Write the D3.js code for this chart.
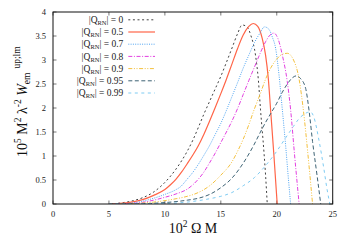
<!DOCTYPE html>
<html><head><meta charset="utf-8">
<script src="https://cdn.jsdelivr.net/npm/d3@7"></script>
<style>body{margin:0;background:#fff}svg{display:block}</style>
</head><body>
<svg id="c" width="350" height="245"></svg>
<script>
const xTicks=[0,5,10,15,20,25];
const yTicks=[0,0.5,1,1.5,2,2.5,3,3.5,4];
const labels=["0","0.5","0.7","0.8","0.9","0.95","0.99"];
const q0=[[5,0],[6,0.02],[7,0.06],[8,0.13],[9,0.25],[10,0.45],[11,0.73],[12,1.1],[12.5,1.33],[13,1.6],[13.5,1.88],[14,2.14],[14.5,2.4],[15,2.66],[15.5,2.95],[16,3.25],[16.5,3.55],[16.9,3.73],[17.3,3.7],[17.7,3.5],[18.1,3.1],[18.35,2.6],[18.55,1.96],[18.85,1.1],[19.0,0.6],[19.15,0]];
const q05=[[5,0],[6,0.012],[7,0.04],[8,0.09],[9,0.18],[10,0.3],[10.5,0.4],[11,0.52],[11.5,0.67],[12,0.84],[12.5,1.02],[13,1.22],[13.5,1.46],[14,1.73],[14.5,2.01],[15,2.3],[15.5,2.6],[16,2.92],[16.5,3.24],[17,3.52],[17.5,3.7],[17.9,3.76],[18.3,3.7],[18.7,3.45],[19.0,3.1],[19.25,2.6],[19.45,1.96],[19.75,1.0],[20.04,0]];
const q07=[[5,0],[6,0.005],[7,0.02],[8,0.06],[9,0.12],[10,0.2],[11,0.3],[11.4,0.36],[12,0.52],[12.5,0.66],[13,0.83],[13.5,1.02],[14,1.22],[14.5,1.45],[15,1.68],[15.5,1.95],[16,2.24],[16.5,2.53],[17,2.83],[17.5,3.1],[18,3.36],[18.5,3.56],[18.9,3.69],[19.3,3.64],[19.6,3.48],[19.9,3.24],[20.2,2.69],[20.5,1.96],[20.8,1.2],[21.05,0.5],[21.24,0]];
const q08=[[5,0],[6,0.002],[7,0.01],[8,0.035],[9,0.08],[10,0.14],[11,0.21],[12,0.31],[12.5,0.4],[13,0.52],[13.5,0.67],[14,0.86],[14.5,1.06],[15,1.28],[15.5,1.5],[16,1.73],[16.5,1.99],[17,2.28],[17.5,2.57],[18,2.85],[18.5,3.13],[19,3.38],[19.4,3.52],[19.74,3.56],[20.1,3.45],[20.5,3.1],[20.94,2.55],[21.24,1.96],[21.6,1.0],[22.0,0]];
const q09=[[5,0],[7,0.005],[8,0.02],[9,0.04],[10,0.07],[11,0.11],[12,0.16],[13,0.24],[14,0.38],[15,0.6],[16,0.88],[16.5,1.1],[17,1.35],[17.5,1.65],[18,1.98],[18.5,2.28],[19,2.6],[19.5,2.85],[20,3.02],[20.5,3.12],[20.94,3.14],[21.5,3.0],[21.98,2.62],[22.43,1.85],[22.8,1.0],[23.2,0]];
const q095=[[5,0],[8,0.005],[9,0.015],[10,0.03],[11,0.05],[12,0.08],[13,0.12],[14,0.2],[15,0.34],[16,0.54],[17,0.85],[18,1.25],[18.5,1.48],[19,1.7],[19.5,1.9],[20,2.1],[20.5,2.33],[21,2.52],[21.4,2.63],[21.75,2.67],[22.1,2.62],[22.58,2.41],[22.88,1.96],[23.2,1.3],[23.6,0.6],[23.93,0]];
const q099=[[5,0],[9,0.005],[10,0.01],[11,0.02],[12,0.04],[13,0.07],[14,0.11],[15,0.16],[16,0.24],[17,0.38],[18,0.55],[19,0.8],[20,1.1],[20.8,1.38],[21.5,1.62],[22,1.78],[22.5,1.88],[23,1.92],[23.3,1.82],[23.77,1.33],[24.2,0.75],[24.5,0.3],[24.75,0]];
const seriesData=[q0,q05,q07,q08,q09,q095,q099];
const colors=["#404040","#ff6548","#4ea3f0","#e23fe0","#f3c03e","#3d6274","#7ecbf2"];
const dashes=["2,2.6","none","1,1.3","4,1.6,1,1.6","4,1.6,1,1.6,1,1.6","4,2.5","3,3.5"];
const widths=[1,1.2,1,1,1,1,1];

const svg=d3.select("#c");
const L=53,R=332.7,T=12,B=204;
const x=d3.scaleLinear().domain([0,25]).range([L,R]);
const y=d3.scaleLinear().domain([0,4]).range([B,T]);
const font="Liberation Serif, Times New Roman, serif";

const g=svg.append("g").attr("stroke","#555").attr("stroke-width",0.8);
xTicks.forEach(t=>{
  g.append("line").attr("x1",x(t)).attr("x2",x(t)).attr("y1",B).attr("y2",B-3.5);
  g.append("line").attr("x1",x(t)).attr("x2",x(t)).attr("y1",T).attr("y2",T+3.5);
});
yTicks.forEach(t=>{
  g.append("line").attr("x1",L).attr("x2",L+3.5).attr("y1",y(t)).attr("y2",y(t));
  g.append("line").attr("x1",R).attr("x2",R-3.5).attr("y1",y(t)).attr("y2",y(t));
});
svg.append("g").selectAll("text").data(xTicks).join("text")
  .attr("x",d=>x(d)).attr("y",B+12.5).attr("text-anchor","middle")
  .attr("font-family",font).attr("font-size",8.5).attr("fill","#222").text(d=>d);
svg.append("g").selectAll("text").data(yTicks).join("text")
  .attr("x",L-7).attr("y",d=>y(d)+3).attr("text-anchor","end")
  .attr("font-family",font).attr("font-size",8.5).attr("fill","#222").text(d=>d);

svg.append("clipPath").attr("id","cp").append("rect").attr("x",L).attr("y",T).attr("width",R-L).attr("height",B-T);
const line=d3.line().x(d=>x(d[0])).y(d=>y(d[1])).curve(d3.curveMonotoneX);
seriesData.forEach((s,i)=>{
  svg.append("path").attr("d",line(s)).attr("fill","none").attr("stroke",colors[i])
    .attr("stroke-width",widths[i]).attr("stroke-dasharray",dashes[i]).attr("clip-path","url(#cp)");
});

svg.append("rect").attr("x",L).attr("y",T).attr("width",R-L).attr("height",B-T)
  .attr("fill","none").attr("stroke","#111").attr("stroke-width",1);

const legY0=19.8, legDy=12.2;
labels.forEach((lab,i)=>{
  const yy=legY0+i*legDy;
  const t=svg.append("text").attr("x",123.3).attr("y",yy+3.2).attr("text-anchor","end")
    .attr("font-family",font).attr("font-size",9.5).attr("fill","#222");
  t.append("tspan").text("|Q");
  t.append("tspan").attr("font-size",6.5).attr("dy",2).text("RN");
  t.append("tspan").attr("dy",-2).text("| = "+lab);
  svg.append("line").attr("x1",128.3).attr("x2",155).attr("y1",yy).attr("y2",yy)
    .attr("stroke",colors[i]).attr("stroke-width",widths[i]).attr("stroke-dasharray",dashes[i]);
});

const xt=svg.append("text").attr("x",193).attr("y",233).attr("text-anchor","middle")
  .attr("font-family",font).attr("font-size",14).attr("fill","#111");
xt.append("tspan").text("10");
xt.append("tspan").attr("font-size",9.5).attr("dy",-6).text("2");
xt.append("tspan").attr("dy",6).text(" Ω M");

const yt=svg.append("text").attr("transform","translate(27,157) rotate(-90)")
  .attr("font-family",font).attr("font-size",14).attr("fill","#111");
yt.append("tspan").text("10");
yt.append("tspan").attr("font-size",9.5).attr("dy",-6).text("5");
yt.append("tspan").attr("dy",6).text(" M");
yt.append("tspan").attr("font-size",9.5).attr("dy",-6).text("2");
yt.append("tspan").attr("dy",6).text(" λ");
yt.append("tspan").attr("font-size",9.5).attr("dy",-6).text("-2");
yt.append("tspan").attr("dy",6).text(" ");
yt.append("tspan").attr("font-style","italic").text("W");
yt.append("tspan").attr("font-size",9.5).attr("dy",3).text("em");
yt.append("tspan").attr("font-size",9.5).attr("dy",-10).attr("dx",4).text("up;lm");
</script>
</body></html>
